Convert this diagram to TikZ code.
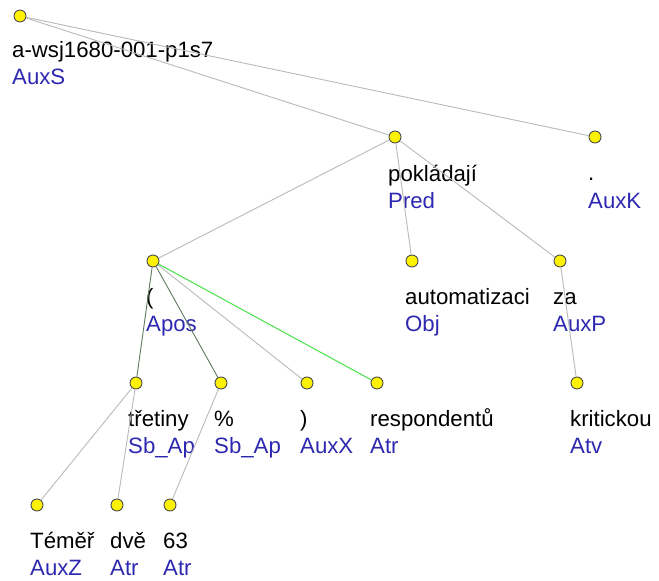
\documentclass[tikz,border=0pt]{standalone}
\usepackage{fontspec}
\setmainfont{Liberation Sans}
\usepackage{xcolor}
\usetikzlibrary{positioning}

\definecolor{afuncol}{RGB}{45,40,175}
\definecolor{darkedge}{RGB}{95,120,95}
\definecolor{lightedge}{RGB}{185,185,185}
\definecolor{hiedge}{RGB}{70,225,70}

\begin{document}
\begin{tikzpicture}[
  x=1pt, y=-1pt,
  font=\fontsize{22.2}{26}\selectfont,
  tnode/.style={circle, draw=black!70, fill=yellow, line width=.9pt, minimum size=12pt, inner sep=0pt},
  form/.style={anchor=base west, inner sep=0pt, text=black},
  afun/.style={anchor=base west, inner sep=0pt, text=afuncol},
  edge/.style={draw=lightedge, line width=.9pt},
  darkedge/.style={draw=darkedge, line width=.9pt},
  hiedge/.style={draw=hiedge, line width=1pt}
]
\useasboundingbox (0,0) rectangle (659,581);
% tree nodes
\node[tnode] (root) at (20,16) {};
\node[tnode] (pred) at (395,137) {};
\node[tnode] (auxk) at (595,137) {};
\node[tnode] (apos) at (153,261) {};
\node[tnode] (obj) at (412,261) {};
\node[tnode] (auxp) at (560,261) {};
\node[tnode] (sba) at (136,383) {};
\node[tnode] (sbb) at (221,383) {};
\node[tnode] (auxx) at (307,383) {};
\node[tnode] (atrr) at (377,383) {};
\node[tnode] (atv) at (577,383) {};
\node[tnode] (auxz) at (37,505) {};
\node[tnode] (atrd) at (117,505) {};
\node[tnode] (atrn) at (170,505) {};
% word forms
\node[form] (rootw) at (12,57) {a-wsj1680-001-p1s7};
\node[form] (predw) at (388,181) {pokládají};
\node[form] (auxkw) at (588,180) {.};
\node[form] (aposw) at (146,304) {(};
\node[form] (objw) at (405,304) {automatizaci};
\node[form] (auxpw) at (553,304) {za};
\node[form] (sbaw) at (128,426) {třetiny};
\node[form] (sbbw) at (214,426) {\%};
\node[form] (auxxw) at (300,426) {)};
\node[form] (atrrw) at (370,426) {respondentů};
\node[form] (atvw) at (570,426) {kritickou};
\node[form] (auxzw) at (30,548) {Téměř};
\node[form] (atrdw) at (110,548) {dvě};
\node[form] (atrnw) at (163,548) {63};
% analytical functions
\node[afun] (roota) at (12,84) {AuxS};
\node[afun] (preda) at (388,208) {Pred};
\node[afun] (auxka) at (588,208) {AuxK};
\node[afun] (aposa) at (146,331) {Apos};
\node[afun] (obja) at (405,331) {Obj};
\node[afun] (auxpa) at (553,331) {AuxP};
\node[afun] (sbaa) at (128,453) {Sb\_Ap};
\node[afun] (sbba) at (214,453) {Sb\_Ap};
\node[afun] (auxxa) at (300,453) {AuxX};
\node[afun] (atrra) at (370,453) {Atr};
\node[afun] (atva) at (570,453) {Atv};
\node[afun] (auxza) at (30,575) {AuxZ};
\node[afun] (atrda) at (110,575) {Atr};
\node[afun] (atrna) at (163,575) {Atr};
% edges
\draw[edge] (root) -- (pred);
\draw[edge] (root) -- (auxk);
\draw[edge] (pred) -- (apos);
\draw[edge] (pred) -- (obj);
\draw[edge] (pred) -- (auxp);
\draw[edge] (auxp) -- (atv);
\draw[darkedge] (apos) -- (sba);
\draw[darkedge] (apos) -- (sbb);
\draw[edge] (apos) -- (auxx);
\draw[hiedge] (apos) -- (atrr);
\draw[edge] (sba) -- (auxz);
\draw[edge] (sba) -- (atrd);
\draw[edge] (sbb) -- (atrn);
\end{tikzpicture}
\end{document}
